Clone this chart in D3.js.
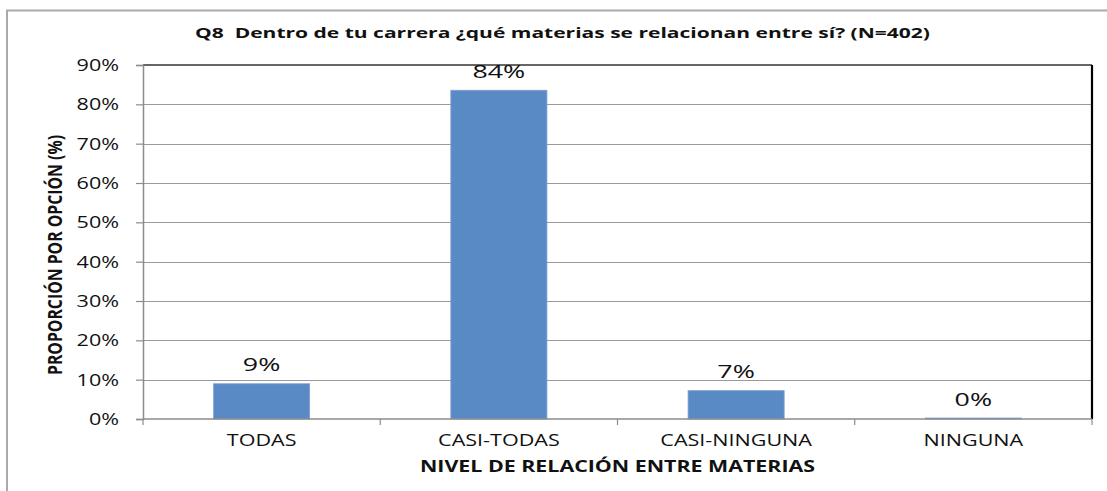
<!DOCTYPE html>
<html>
<head>
<meta charset="utf-8">
<script src="https://cdn.jsdelivr.net/npm/d3@7"></script>
<style>
  body { margin: 0; background: #fff; }
  text { font-family: "Open Sans", sans-serif; fill: #111; }
</style>
</head>
<body>
<div id="chart"></div>
<script>
var categories = ["TODAS", "CASI-TODAS", "CASI-NINGUNA", "NINGUNA"];
var values = [0.0896, 0.8358, 0.0721, 0.0025]; // share of 402 answers
var yTicks = [0, 0.1, 0.2, 0.3, 0.4, 0.5, 0.6, 0.7, 0.8, 0.9];
var title = "Q8  Dentro de tu carrera ¿qué materias se relacionan entre sí? (N=402)";
var xTitle = "NIVEL DE RELACIÓN ENTRE MATERIAS";
var yTitle = "PROPORCIÓN POR OPCIÓN (%)";

var width = 1107, height = 491;
var margin = {top: 65, right: 15, bottom: 72, left: 143};
var stretch = 1.4; // the source picture is wider than tall

var svg = d3.select("#chart").append("svg")
  .attr("width", width)
  .attr("height", height);

// outer frame, runs off the right and bottom edges
svg.append("rect")
  .attr("x", 7).attr("y", 10.5)
  .attr("width", width + 20).attr("height", height + 20)
  .attr("fill", "none")
  .attr("stroke", "#aaa")
  .attr("stroke-width", 2);

var x = d3.scaleBand()
  .domain(categories)
  .range([margin.left, width - margin.right])
  .paddingInner(0.595)
  .paddingOuter(0.2975);

var y = d3.scaleLinear()
  .domain([0, 0.9])
  .range([height - margin.bottom, margin.top]);

// gridlines
svg.append("g").selectAll("line")
  .data(yTicks.slice(1, -1))
  .enter().append("line")
  .attr("x1", margin.left).attr("x2", width - margin.right)
  .attr("y1", function(d) { return Math.round(y(d)) + 0.5; })
  .attr("y2", function(d) { return Math.round(y(d)) + 0.5; })
  .attr("stroke", "#9a9a9a")
  .attr("stroke-width", 1);

// plot frame top / right
svg.append("line")
  .attr("x1", margin.left).attr("x2", width - margin.right)
  .attr("y1", y(0.9)).attr("y2", y(0.9))
  .attr("stroke", "#333").attr("stroke-width", 1.5);
svg.append("line")
  .attr("x1", width - margin.right).attr("x2", width - margin.right)
  .attr("y1", y(0.9)).attr("y2", y(0))
  .attr("stroke", "#000").attr("stroke-width", 2.2);

// bars
svg.append("g").selectAll("rect")
  .data(values)
  .enter().append("rect")
  .attr("x", function(d, i) { return x(categories[i]); })
  .attr("y", function(d) { return y(d); })
  .attr("width", x.bandwidth())
  .attr("height", function(d) { return y(0) - y(d); })
  .attr("fill", "#5a8ac5")
  .attr("stroke", "#7ea2d0")
  .attr("stroke-width", 0.8);

// value labels
var fmt = d3.format(".0%");
svg.append("g").selectAll("text")
  .data(values)
  .enter().append("text")
  .attr("transform", function(d, i) {
    return "translate(" + (x(categories[i]) + x.bandwidth() / 2) + "," + (y(d) - 12.5) + ") scale(1.45,1)";
  })
  .attr("text-anchor", "middle")
  .style("font-size", "18.5px")
  .text(function(d) { return fmt(d); });

// y axis
var yAxis = svg.append("g")
  .attr("transform", "translate(" + margin.left + ",0)")
  .call(d3.axisLeft(y).tickValues(yTicks).tickFormat(d3.format(".0%")).tickSize(7).tickPadding(0));
yAxis.select(".domain").attr("stroke", "#8c8c8c").attr("stroke-width", 1.5);
yAxis.selectAll(".tick line").attr("stroke", "#8c8c8c").attr("stroke-width", 1.2);
yAxis.selectAll(".tick text")
  .attr("x", -24 / stretch)
  .attr("dy", "0.36em")
  .attr("transform", "scale(" + stretch + ",1)")
  .style("font-size", "15.4px")
  .style("font-family", "'Open Sans', sans-serif")
  .attr("fill", "#111");

// x axis: ticks between categories
var xAxis = svg.append("g");
xAxis.append("line")
  .attr("x1", margin.left).attr("x2", width - margin.right)
  .attr("y1", y(0)).attr("y2", y(0))
  .attr("stroke", "#8c8c8c").attr("stroke-width", 1.5);
var bounds = categories.map(function(c) { return x(c) - x.step() * x.paddingInner() / 2; });
bounds.push(width - margin.right);
xAxis.selectAll(".xt")
  .data(bounds)
  .enter().append("line")
  .attr("class", "xt")
  .attr("x1", function(d) { return d; }).attr("x2", function(d) { return d; })
  .attr("y1", y(0)).attr("y2", y(0) + 6)
  .attr("stroke", "#8c8c8c").attr("stroke-width", 1.2);
xAxis.selectAll(".xl")
  .data(categories)
  .enter().append("text")
  .attr("class", "xl")
  .attr("transform", function(d) {
    return "translate(" + (x(d) + x.bandwidth() / 2) + "," + (y(0) + 26.5) + ") scale(" + stretch + ",1)";
  })
  .attr("text-anchor", "middle")
  .style("font-size", "15.4px")
  .text(function(d) { return d; });

// titles
svg.append("text")
  .attr("x", 195).attr("y", 38)
  .attr("textLength", 735)
  .attr("lengthAdjust", "spacingAndGlyphs")
  .style("white-space", "pre")
  .style("font-size", "14.5px")
  .style("font-weight", "bold")
  .text(title);

svg.append("text")
  .attr("x", 420).attr("y", 472)
  .attr("textLength", 395)
  .attr("lengthAdjust", "spacingAndGlyphs")
  .style("font-size", "15.4px")
  .style("font-weight", "bold")
  .text(xTitle);

svg.append("text")
  .attr("transform", "translate(62,255) scale(" + stretch + ",1) rotate(-90)")
  .attr("text-anchor", "middle")
  .attr("textLength", 240)
  .attr("lengthAdjust", "spacingAndGlyphs")
  .style("font-size", "14.5px")
  .style("font-weight", "bold")
  .text(yTitle);
</script>
</body>
</html>
